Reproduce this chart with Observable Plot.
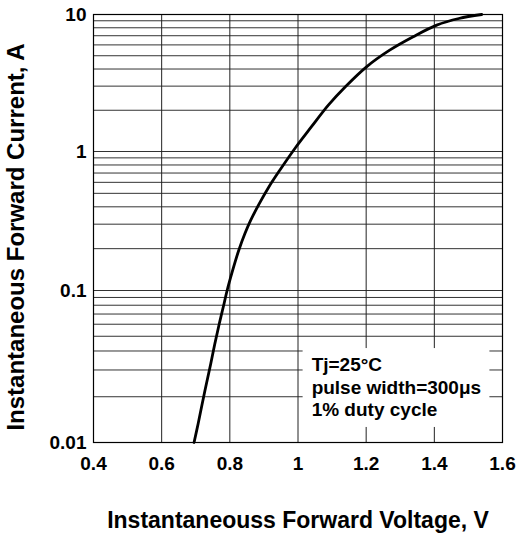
<!DOCTYPE html>
<html>
<head>
<meta charset="utf-8">
<script src="https://cdn.jsdelivr.net/npm/d3@7"></script>
<script src="https://cdn.jsdelivr.net/npm/@observablehq/plot@0.6"></script>
<style>
  html, body { margin: 0; padding: 0; background: white; }
</style>
</head>
<body>
<div id="chart"></div>
<script>
// Curve: instantaneous forward voltage (V) vs forward current (A)
const voltage = [0.695, 0.707, 0.727, 0.744, 0.756, 0.769, 0.783, 0.792, 0.808, 0.826, 0.844, 0.861, 0.886, 0.914, 0.946, 0.993, 1.039, 1.089, 1.139, 1.201, 1.269, 1.338, 1.407, 1.472, 1.539];
const current = [0.01, 0.0133, 0.022, 0.033, 0.0446, 0.0604, 0.0818, 0.1, 0.139, 0.194, 0.256, 0.319, 0.420, 0.554, 0.730, 1.07, 1.51, 2.18, 2.97, 4.15, 5.49, 6.88, 8.36, 9.35, 10];

const xTicks = [0.4, 0.6, 0.8, 1.0, 1.2, 1.4, 1.6];
const xTickLabels = ["0.4", "0.6", "0.8", "1", "1.2", "1.4", "1.6"];
const yTicks = [0.01, 0.1, 1, 10];
const yTickLabels = ["0.01", "0.1", "1", "10"];
const yGrid = [];
for (const dec of [0.01, 0.1, 1]) for (let k = 1; k <= 9; k++) yGrid.push(+(k * dec).toPrecision(3));
yGrid.push(10);
const xGrid = [0.6, 0.8, 1.0, 1.2, 1.4];

const xLabel = "Instantaneouss Forward Voltage, V";
const yLabel = "Instantaneous Forward Current, A";
const noteLines = ["Tj=25°C", "pulse width=300μs", "1% duty cycle"];
// annotation placement in data units
const noteBox = {x1: 1.015, x2: 1.563, y1: 0.01256, y2: 0.0415};
const noteAt = {x: 1.04, y: 0.0233};

const data = voltage.map((v, i) => ({v, i: current[i]}));
const font = "'Liberation Sans', Arial, Helvetica, sans-serif";

const chart = Plot.plot({
  width: 520,
  height: 535,
  marginLeft: 93,
  marginRight: 18,
  marginTop: 14,
  marginBottom: 93,
  style: {fontFamily: font, fontWeight: "bold", fontSize: "19px", color: "black", background: "white"},
  x: {domain: [0.4, 1.6], ticks: xTicks, tickFormat: d => xTickLabels[xTicks.indexOf(d)], tickSize: 0, tickPadding: 14, label: null},
  y: {type: "log", domain: [0.01, 0.1, 1, 10], range: [442, 290, 151, 14], ticks: yTicks, tickFormat: d => yTickLabels[yTicks.indexOf(d)], tickSize: 0, tickPadding: 7, label: null},
  marks: [
    Plot.ruleY(yGrid, {stroke: "#333", strokeWidth: 1}),
    Plot.ruleX(xGrid, {stroke: "#222", strokeWidth: 1}),
    Plot.rect([noteBox], {x1: "x1", x2: "x2", y1: "y1", y2: "y2", fill: "white"}),
    Plot.frame({stroke: "black", strokeWidth: 1.2}),
    Plot.line(data, {x: "v", y: "i", stroke: "black", strokeWidth: 2.8, curve: "catmull-rom"}),
    Plot.text([noteLines.join("\n")], {x: () => noteAt.x, y: () => noteAt.y, text: d => d, textAnchor: "start", lineAnchor: "middle", lineHeight: 1.18, fontSize: 19, fontWeight: "bold", fill: "black"}),
    Plot.text([xLabel], {frameAnchor: "bottom", dy: 78, text: d => d, fontSize: 23, fontWeight: "bold", fill: "black", lineAnchor: "middle"})
  ]
});

// rotated y-axis title
d3.select(chart).append("text")
  .attr("transform", "translate(16,237) rotate(-90)")
  .attr("text-anchor", "middle")
  .attr("dy", "0.35em")
  .attr("fill", "black")
  .style("font-family", font)
  .style("font-weight", "bold")
  .style("font-size", "24px")
  .text(yLabel);

document.getElementById("chart").appendChild(chart);
</script>
</body>
</html>
